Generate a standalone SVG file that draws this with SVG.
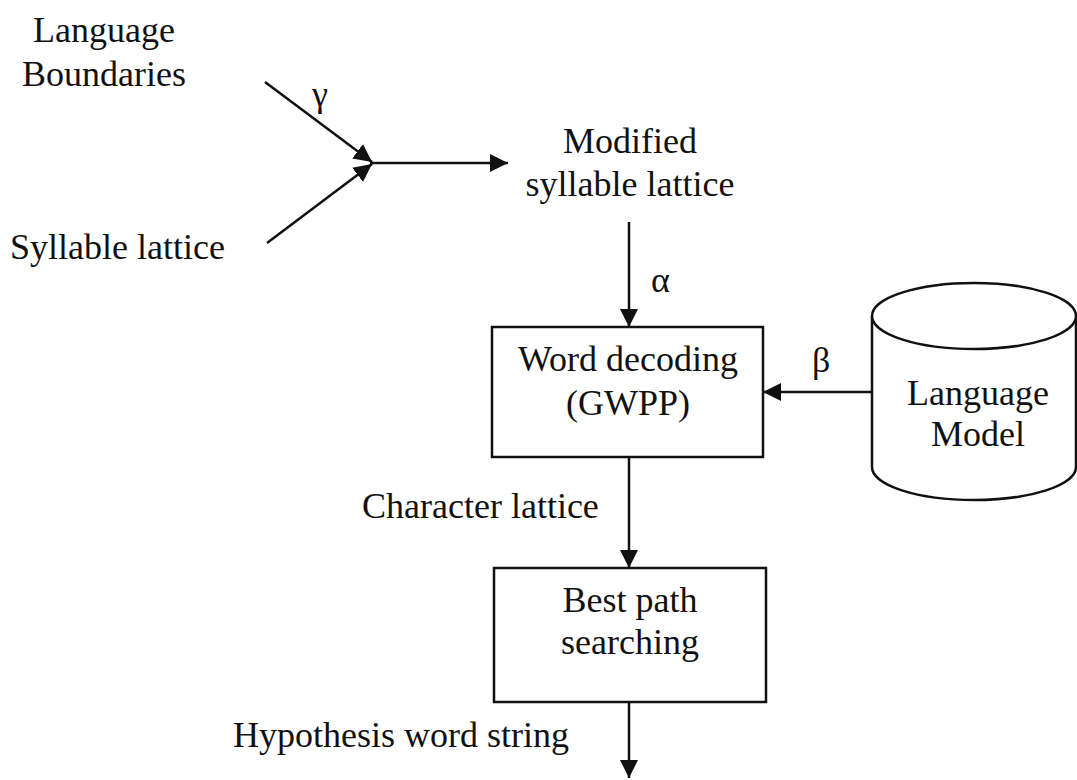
<svg xmlns="http://www.w3.org/2000/svg" width="1077" height="780" viewBox="0 0 1077 780">
  <style>
    text { font-family: "Liberation Serif", "Times New Roman", serif; font-size: 36px; fill: #111; }
    .mid { text-anchor: middle; }
    .box { fill: #fff; stroke: #111; stroke-width: 2.5; }
    .edge { fill: none; stroke: #111; stroke-width: 2.5; }
  </style>
  <defs>
    <marker id="arrow" viewBox="0 0 18 18" refX="18" refY="9" markerWidth="18" markerHeight="18" markerUnits="userSpaceOnUse" orient="auto">
      <path d="M0,0 L18,9 L0,18 Z" fill="#111"/>
    </marker>
  </defs>
  <rect width="1077" height="780" fill="#fff"/>

  <!-- inputs -->
  <g id="language-boundaries">
    <text class="mid" x="104" y="42">Language</text>
    <text class="mid" x="104" y="86">Boundaries</text>
  </g>
  <g id="syllable-lattice">
    <text x="10" y="259">Syllable lattice</text>
  </g>
  <g id="modified-lattice">
    <text class="mid" x="630" y="153">Modified</text>
    <text class="mid" x="630" y="196">syllable lattice</text>
  </g>

  <!-- processing blocks -->
  <g id="word-decoding">
    <rect class="box" x="492" y="327" width="271" height="130"/>
    <text class="mid" x="628" y="371">Word decoding</text>
    <text class="mid" x="628" y="415">(GWPP)</text>
  </g>
  <g id="language-model">
    <path class="box" d="M872,316 L872,467 A102,33 0 0 0 1076,467 L1076,316"/>
    <ellipse class="box" cx="974" cy="316" rx="102" ry="33"/>
    <text class="mid" x="978" y="405">Language</text>
    <text class="mid" x="978" y="446">Model</text>
  </g>
  <g id="character-lattice">
    <text x="362" y="518">Character lattice</text>
  </g>
  <g id="best-path">
    <rect class="box" x="494" y="568" width="272" height="134"/>
    <text class="mid" x="630" y="612">Best path</text>
    <text class="mid" x="630" y="654">searching</text>
  </g>
  <g id="hypothesis">
    <text x="233" y="747">Hypothesis word string</text>
  </g>

  <!-- connectors -->
  <g id="connectors">
    <line class="edge" x1="265" y1="82" x2="372" y2="162" marker-end="url(#arrow)"/>
    <line class="edge" x1="267" y1="243" x2="372" y2="164" marker-end="url(#arrow)"/>
    <line class="edge" x1="370" y1="163" x2="508" y2="163" marker-end="url(#arrow)"/>
    <line class="edge" x1="629" y1="222" x2="629" y2="327" marker-end="url(#arrow)"/>
    <line class="edge" x1="872" y1="392" x2="763" y2="392" marker-end="url(#arrow)"/>
    <line class="edge" x1="629" y1="457" x2="629" y2="568" marker-end="url(#arrow)"/>
    <line class="edge" x1="629" y1="702" x2="629" y2="778" marker-end="url(#arrow)"/>
    <text x="312" y="106">γ</text>
    <text x="651" y="292">α</text>
    <text x="812" y="372">β</text>
  </g>
</svg>
